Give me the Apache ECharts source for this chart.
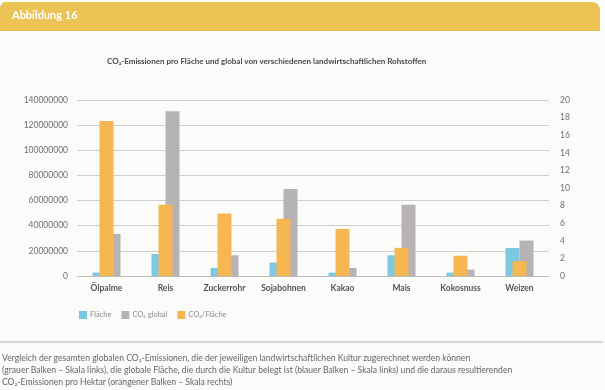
<!DOCTYPE html>
<html>
<head>
<meta charset="utf-8">
<script src="https://cdn.jsdelivr.net/npm/echarts@6/dist/echarts.min.js"></script>
<style>
  html, body { margin: 0; padding: 0; background: #fbfbfa; }
  #chart { width: 605px; height: 390px; }
</style>
</head>
<body>
<div id="chart"></div>
<script>
// ---- data ----
var categories = ['Ölpalme', 'Reis', 'Zuckerrohr', 'Sojabohnen', 'Kakao', 'Mais', 'Kokosnuss', 'Weizen'];
var flaeche = [2700000, 17500000, 6400000, 10700000, 2700000, 16500000, 2700000, 22300000];
var co2Global = [33500000, 131000000, 16500000, 69300000, 6400000, 56600000, 5100000, 28200000];
var co2ProFlaeche = [17.6, 8.1, 7.1, 6.5, 5.35, 3.2, 2.3, 1.7];
var leftTicks = [0, 20000000, 40000000, 60000000, 80000000, 100000000, 120000000, 140000000];
var rightTicks = [0, 2, 4, 6, 8, 10, 12, 14, 16, 18, 20];
var seriesNames = ['Fläche', 'CO₂ global', 'CO₂/Fläche'];
var headerText = 'Abbildung 16';
var titleText = 'CO₂-Emissionen pro Fläche und global von verschiedenen landwirtschaftlichen Rohstoffen';
var captionLines = [
  'Vergleich der gesamten globalen CO₂-Emissionen, die der jeweiligen landwirtschaftlichen Kultur zugerechnet werden können',
  '(grauer Balken – Skala links), die globale Fläche, die durch die Kultur belegt ist (blauer Balken – Skala links) und die daraus resultierenden',
  'CO₂-Emissionen pro Hektar (orangener Balken – Skala rechts)'
];

var chart = echarts.init(document.getElementById('chart'), null, { renderer: 'canvas' });
var font = 'Lato, "Open Sans", sans-serif';

chart.setOption({
  backgroundColor: '#fbfbfa',
  animation: false,
  textStyle: { fontFamily: font },
  title: {
    text: titleText,
    left: 102,
    top: 52,
    textStyle: { fontSize: 8, fontWeight: 'bold', color: '#4a4a4a', fontFamily: font }
  },
  legend: {
    data: seriesNames,
    left: 74,
    top: 306,
    itemWidth: 8,
    itemHeight: 8,
    itemGap: 10,
    icon: 'rect',
    textStyle: { fontSize: 7.5, color: '#8a8a8a', fontFamily: font, padding: [0, 0, 0, -2] }
  },
  grid: { left: 77, right: 56, top: 100, bottom: 114, containLabel: false },
  xAxis: [
    {
      type: 'category',
      data: categories,
      axisLine: { lineStyle: { color: '#bdbdbd', width: 1 } },
      axisTick: { show: false },
      axisLabel: { margin: 8, fontSize: 8.5, fontWeight: 'bold', color: '#555', fontFamily: font }
    },
    {
      type: 'category',
      data: categories,
      show: false
    }
  ],
  yAxis: [
    {
      type: 'value',
      min: leftTicks[0],
      max: leftTicks[leftTicks.length - 1],
      interval: leftTicks[1] - leftTicks[0],
      axisLine: { show: false },
      axisTick: { show: false },
      splitLine: { lineStyle: { color: '#cfcfcf', width: 1 } },
      axisLabel: {
        margin: 9, fontSize: 8.5, color: '#6f6f6f', fontFamily: font,
        formatter: function (v) { return String(v); }
      }
    },
    {
      type: 'value',
      min: rightTicks[0],
      max: rightTicks[rightTicks.length - 1],
      interval: rightTicks[1] - rightTicks[0],
      axisLine: { show: false },
      axisTick: { show: false },
      splitLine: { show: false },
      axisLabel: { margin: 11, fontSize: 8.5, color: '#6f6f6f', fontFamily: font }
    }
  ],
  series: [
    {
      name: seriesNames[0], type: 'bar', xAxisIndex: 0, yAxisIndex: 0,
      data: flaeche, barWidth: 14, barGap: '0%',
      itemStyle: { color: '#7ec8e2' }
    },
    {
      name: seriesNames[1], type: 'bar', xAxisIndex: 0, yAxisIndex: 0,
      data: co2Global, barWidth: 14, barGap: '0%',
      itemStyle: { color: '#b7b2b5' }
    },
    {
      name: seriesNames[2], type: 'bar', xAxisIndex: 1, yAxisIndex: 1,
      data: co2ProFlaeche, barWidth: 14,
      itemStyle: { color: '#f6b652' }
    }
  ],
  graphic: [
    {
      type: 'rect', left: 0, top: 2, z: 0,
      shape: { width: 600, height: 29, r: [6, 8, 0, 0] },
      style: { fill: '#ecc355' }
    },
    {
      type: 'text', left: 12, top: 10, z: 1,
      style: { text: headerText, fill: '#ffffff', font: 'bold 11px ' + font }
    },
    {
      type: 'rect', left: 0, top: 341, z: 0,
      shape: { width: 603, height: 2 },
      style: { fill: '#d6d6d6' }
    },
    {
      type: 'text', left: 2, top: 352, z: 1,
      style: {
        text: captionLines.join('\n'),
        fill: '#666666',
        font: '8.6px ' + font,
        lineHeight: 12
      }
    }
  ]
});
</script>
</body>
</html>
